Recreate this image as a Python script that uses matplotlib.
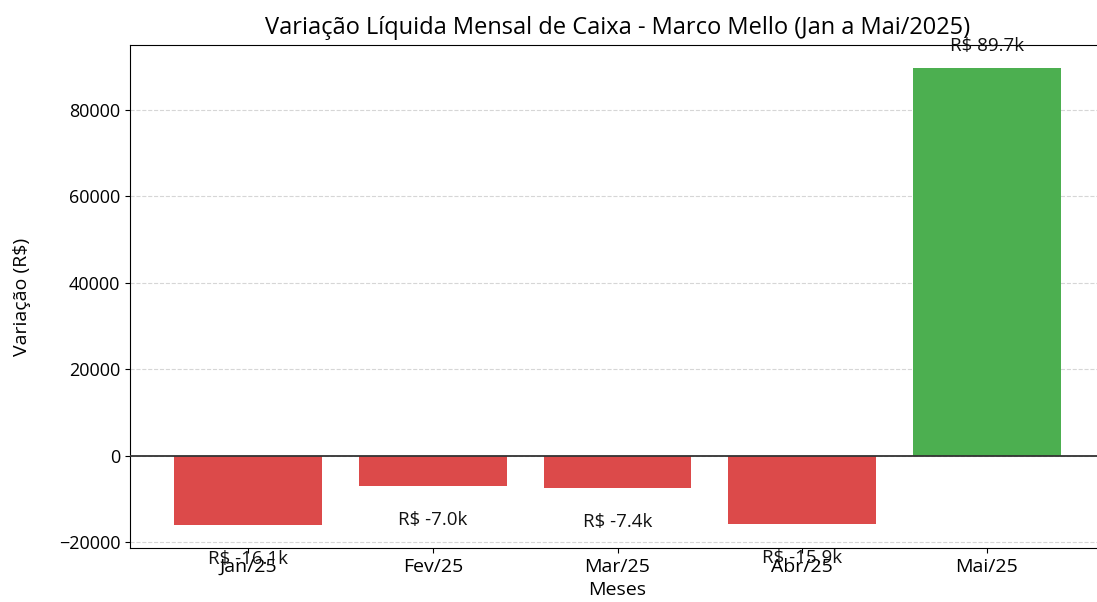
import matplotlib.pyplot as plt

plt.rcParams['font.family'] = ['Open Sans', 'DejaVu Sans']

meses = ['Jan/25', 'Fev/25', 'Mar/25', 'Abr/25', 'Mai/25']
variacao = [-16100, -7000, -7400, -15900, 89700]

cores = ['#4caf50' if v > 0 else '#dc4a4a' for v in variacao]

fig = plt.figure(figsize=(10.97, 6.02), dpi=100)
# right edge of the axes falls just outside the picture, as in the reference
ax = fig.add_axes([130 / 1097, 54 / 602, 975 / 1097, 503 / 602])

bars = ax.bar(meses, variacao, color=cores, width=0.8, zorder=2)
ax.axhline(0, color='#333333', linewidth=1.3, zorder=3)
ax.grid(axis='y', linestyle='--', color='#cccccc', alpha=0.8, zorder=0)

for b, v in zip(bars, variacao):
    y = v + 3000 if v > 0 else v - 10000
    ax.text(b.get_x() + b.get_width() / 2, y, f'R$ {v / 1000:.1f}k',
            ha='center', va='bottom', fontsize=13.5, color='#111111')

ax.set_title('Variação Líquida Mensal de Caixa - Marco Mello (Jan a Mai/2025)',
             fontsize=17, pad=8)
ax.set_xlabel('Meses', fontsize=14, labelpad=4)
ax.set_ylabel('Variação (R$)', fontsize=14, labelpad=20)
ax.tick_params(axis='y', labelsize=13)
ax.tick_params(axis='x', labelsize=14)

fig.savefig('out.png', dpi=100)
